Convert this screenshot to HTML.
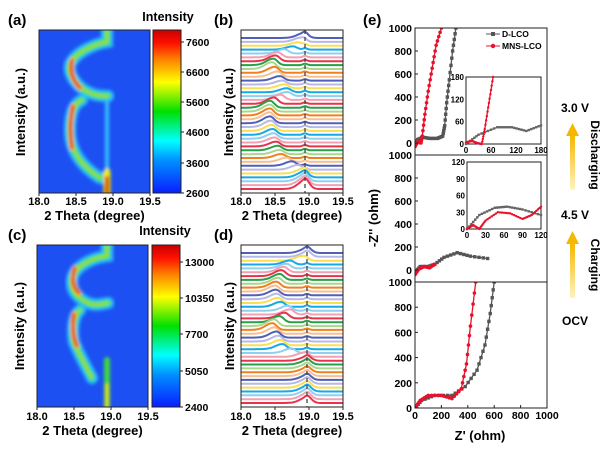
<!DOCTYPE html>
<html><head><meta charset="utf-8">
<style>
body{margin:0;background:#fff;}
svg{display:block;font-family:"Liberation Sans",Arial,sans-serif;font-weight:bold;}
</style></head><body>
<svg id="s" width="600" height="452" viewBox="0 0 600 452" xmlns="http://www.w3.org/2000/svg">
<defs>
<linearGradient id="jet" x1="0" y1="1" x2="0" y2="0">
<stop offset="0" stop-color="#0a1eff"/><stop offset="0.2" stop-color="#0090ff"/><stop offset="0.32" stop-color="#00ffff"/><stop offset="0.5" stop-color="#00e000"/><stop offset="0.68" stop-color="#ffff00"/><stop offset="0.82" stop-color="#ff8000"/><stop offset="0.92" stop-color="#ff1000"/><stop offset="1" stop-color="#c80000"/>
</linearGradient>
<filter id="bl" x="-20%" y="-20%" width="140%" height="140%"><feGaussianBlur stdDeviation="1.5"/></filter>
<linearGradient id="arr" x1="0" y1="1" x2="0" y2="0"><stop offset="0" stop-color="#fff3c0"/><stop offset="1" stop-color="#f5b800"/></linearGradient>
<clipPath id="ca"><rect x="39" y="30" width="111" height="163"/></clipPath>
<clipPath id="cc"><rect x="37" y="245" width="111" height="162"/></clipPath>
</defs>
<g id="g"></g>
</svg>
<script>
const g=document.getElementById('g');let H='';
function T(x,y,t,sz,anc,extra){H+=`<text x="${x}" y="${y}" font-size="${sz}" text-anchor="${anc||'start'}" ${extra||''}>${t}</text>`;}
function heat(x0,y0,w,h,clip,paths,red,vert){
 H+=`<rect x="${x0}" y="${y0}" width="${w}" height="${h}" fill="#1d50f2"/>`;
 H+=`<g clip-path="url(#${clip})" filter="url(#bl)" fill="none" stroke-linecap="round">`;
 const lay=[["#2098ff",13],["#30d8e8",9],["#30d040",5.5],["#a8e820",2.5]];
 for(const [c,w2] of lay) for(const p of paths) H+=`<path d="${p}" stroke="${c}" stroke-width="${w2}"/>`;
 for(const p of red) H+=`<path d="${p}" stroke="#ffc000" stroke-width="5"/><path d="${p}" stroke="#e80000" stroke-width="3"/>`;
 H+=vert+`</g>`;
 H+=`<rect x="${x0}" y="${y0}" width="${w}" height="${h}" fill="none" stroke="#222" stroke-width="1"/>`;
}
heat(39,30,111,163,'ca',
 ["M107,30 L107,42 C95,44 75,52 70,65 C68,75 78,88 90,93 C97,96 103,96 108,96","M82,100 C72,104 70,118 70,130 C70,150 80,165 100,178"],
 ["M72,60 C70,70 72,80 80,88","M73,106 C70,120 70,135 72,148"],
 `<path d="M107,100 L107,193" stroke="#30c0ff" stroke-width="4"/><path d="M107,172 L107,195" stroke="#f0f000" stroke-width="7"/><path d="M107,178 L107,195" stroke="#e00000" stroke-width="4"/>`);
heat(37,245,111,162,'cc',
 ["M107,245 L107,256 C92,258 74,266 72,280 C71,292 78,298 88,303 C95,306 102,304 108,303","M80,310 C73,316 72,330 74,342 C78,352 85,365 92,378"],
 ["M75,268 C71,278 73,288 79,293","M74,314 C72,325 73,338 77,346"],
 `<path d="M107,360 L107,407" stroke="#40d840" stroke-width="6"/><path d="M107,385 L107,407" stroke="#e8e000" stroke-width="3"/>`);
function cbar(x,y,h,labs){H+=`<rect x="${x}" y="${y}" width="28" height="${h}" fill="url(#jet)" stroke="#222"/>`;
 labs.forEach(([v,yy])=>{H+=`<line x1="${x+28}" x2="${x+31}" y1="${yy}" y2="${yy}" stroke="#222"/>`;T(x+33,yy+4,v,10.5);});}
cbar(153,30,163,[["7600",42],["6600",72],["5600",102],["4600",132],["3600",163],["2600",193]]);
cbar(152,245,162,[["13000",262],["10350",298],["7700",334],["5050",371],["2400",407]]);
T(168,21,"Intensity",12.5,"middle");T(165,235,"Intensity",12.5,"middle");
function xax(x0,y0,w,ly){const v=["18.0","18.5","19.0","19.5"];v.forEach((t,i)=>{const x=x0+i*w/3;H+=`<line x1="${x}" x2="${x}" y1="${y0}" y2="${y0+3}" stroke="#222"/>`;T(x,ly,t,11,"middle");});
 T(x0+w/2,ly+15,"2 Theta (degree)",13,"middle");}
xax(39,193,111,205);xax(37,407,111,420);xax(241,193,102,205);xax(241,407,102,420);
function ylab(x,y){T(x,y,"Intensity (a.u.)",13,"middle",`transform="rotate(-90 ${x} ${y})"`);}
ylab(25,112);ylab(24,326);ylab(233,112);ylab(234,326);
T(8,25,"(a)",15);T(214,25,"(b)",15);T(8,240,"(c)",15);T(214,240,"(d)",15);T(363,25,"(e)",15);
const cols=["#e8344a","#f4a0b4","#8fd0f0","#16a8e8","#f8e050","#b8b8e8","#5060b8","#f8c090","#f08020","#a8d890","#28a048"];
function stack(x0,y0,w,h,tbl,dashx){
 H+=`<rect x="${x0}" y="${y0}" width="${w}" height="${h}" fill="#fff"/>`;
 const n=40;
 const pk=t=>{for(let i=0;i<tbl.length-1;i++){if(t>=tbl[i][0]&&t<=tbl[i+1][0]){const f=(t-tbl[i][0])/(tbl[i+1][0]-tbl[i][0]);return [tbl[i][1]+f*(tbl[i+1][1]-tbl[i][1]),tbl[i][2]+f*(tbl[i+1][2]-tbl[i][2])];}}return [tbl[tbl.length-1][1],tbl[tbl.length-1][2]];};
 for(let k=n-1;k>=0;k--){const t=k/(n-1);const yb=y0+h-4-k*(h-12)/(n-1);const [p,a]=pk(t);
  const px=x0+(p-18)/1.5*w;let d="";
  for(let x=x0;x<=x0+w;x+=1.5){const dx=x-px;const wd=dx<0?7:4;const yy=yb-a*Math.exp(-dx*dx/(2*wd*wd))-1.5*Math.exp(-((x-dashx)**2)/8);d+=(d?"L":"M")+x.toFixed(1)+","+yy.toFixed(1);}
  H+=`<path d="${d}" fill="none" stroke="${cols[k%cols.length]}" stroke-width="2"/>`;}
 H+=`<line x1="${dashx}" x2="${dashx}" y1="${y0}" y2="${y0+h}" stroke="#444" stroke-width="1.3" stroke-dasharray="4,3"/>`;
 H+=`<rect x="${x0}" y="${y0}" width="${w}" height="${h}" fill="none" stroke="#222"/>`;
}
stack(241,30,102,163,[[0,18.95,9],[0.1,18.93,5],[0.2,18.6,4],[0.3,18.5,5],[0.45,18.42,7],[0.55,18.43,7],[0.62,18.7,4],[0.7,18.6,4],[0.8,18.45,7],[0.88,18.55,5],[0.93,18.8,3],[1,18.93,5]],305);
stack(241,245,102,162,[[0,18.98,6],[0.3,18.98,4],[0.35,18.62,5],[0.5,18.45,7],[0.6,18.75,5],[0.65,18.55,5],[0.75,18.5,6],[0.85,18.6,6],[0.92,18.7,4],[0.96,18.98,5],[1,18.98,5]],307);
const X0=415,X1=547;
const panels=[{top:28,bot:155,y0:143,y1:28},{top:155,bot:282,y0:270,y1:155},{top:282,bot:408,y0:408,y1:282}];
function sm(pts,n){const out=[];for(let i=0;i<pts.length-1;i++){for(let j=0;j<n;j++){const f=j/n;out.push([pts[i][0]+f*(pts[i+1][0]-pts[i][0]),pts[i][1]+f*(pts[i+1][1]-pts[i][1])]);}}out.push(pts[pts.length-1]);return out;}
function series(pts,mx,my,col,sq,n,ms){const P=sm(pts,n).map(([a,b])=>[mx(a),my(b)]);
 H+=`<polyline points="${P.map(p=>p[0].toFixed(1)+','+p[1].toFixed(1)).join(' ')}" fill="none" stroke="${col}" stroke-width="1.3"/>`;
 P.forEach(([x,y])=>{H+=sq?`<rect x="${x-ms}" y="${y-ms}" width="${2*ms}" height="${2*ms}" fill="${col}"/>`:`<circle cx="${x}" cy="${y}" r="${ms}" fill="${col}"/>`;});}
const data=[
 {g:[[0,-20],[20,30],[60,50],[110,40],[170,40],[210,60],[225,150],[240,350],[260,550],[285,800],[310,1000]],r:[[0,-30],[20,10],[45,0],[55,60],[75,250],[100,450],[130,650],[160,850],[200,1000]]},
 {g:[[0,-20],[40,30],[100,30],[150,50],[220,110],[320,150],[420,120],[550,100]],r:[[0,-40],[30,10],[70,30],[110,20],[150,50]]},
 {g:[[0,0],[50,60],[150,100],[280,100],[380,170],[470,300],[530,500],[570,750],[600,1000]],r:[[0,0],[40,60],[100,100],[200,100],[280,75],[350,150],[390,350],[420,650],[460,1000]]}];
panels.forEach((p,i)=>{const mx=v=>X0+v*(X1-X0)/1000,my=v=>p.y0-v*(p.y0-p.y1)/1000;
 H+=`<clipPath id="ce${i}"><rect x="${X0}" y="${p.top}" width="${X1-X0}" height="${p.bot-p.top}"/></clipPath>`;
 H+=`<g clip-path="url(#ce${i})">`;series(data[i].g,mx,my,"#555",1,4,1.7);series(data[i].r,mx,my,"#e8102a",0,4,1.8);H+=`</g>`;
 H+=`<rect x="${X0}" y="${p.top}" width="${X1-X0}" height="${p.bot-p.top}" fill="none" stroke="#222"/>`;
 for(let v=0;v<=1000;v+=200){const y=my(v);H+=`<line x1="${X0}" x2="${X0+3}" y1="${y}" y2="${y}" stroke="#222"/>`;T(X0-3,y+4,v,10.5,"end");}
});
for(let v=0;v<=1000;v+=200){const x=X0+v*(X1-X0)/1000;H+=`<line x1="${x}" x2="${x}" y1="408" y2="405" stroke="#222"/>`;T(x,419,v,10.5,"middle");}
T(480,440,"Z' (ohm)",13,"middle");T(378,218,"-Z'' (ohm)",13,"middle",'transform="rotate(-90 378 218)"');
H+=`<line x1="486" x2="500" y1="34" y2="34" stroke="#555"/><rect x="491" y="32" width="4" height="4" fill="#555"/>`;T(502,37,"D-LCO",8.5);
H+=`<line x1="486" x2="500" y1="46" y2="46" stroke="#e8102a"/><circle cx="493" cy="46" r="2.2" fill="#e8102a"/>`;T(502,49,"MNS-LCO",8.5);
function inset(x0,y0,x1,y1,max,step,g1,r1){const mx=v=>x0+v*(x1-x0)/max,my=v=>y1-v*(y1-y0)/max;
 H+=`<rect x="${x0}" y="${y0}" width="${x1-x0}" height="${y1-y0}" fill="#fff" stroke="#222"/>`;
 series(g1,mx,my,"#666",1,6,1.2);series(r1,mx,my,"#e8102a",0,6,1.2);
 for(let v=0;v<=max;v+=step){T(x0-2,my(v)+3,v,8,"end");T(mx(v),y1+9,v,8,"middle");}}
inset(466,77,541,144,180,60,[[0,0],[30,25],[75,45],[110,45],[145,35],[180,50]],[[0,5],[15,8],[28,2],[38,0],[45,40],[55,110],[65,180]]);
inset(467,162,541,229,120,30,[[0,0],[20,25],[45,38],[65,40],[90,35],[120,25]],[[0,0],[10,7],[20,0],[30,15],[50,30],[70,28],[90,18],[105,25],[120,40]]);
T(575,112,"3.0 V",12,"middle");T(575,219,"4.5 V",12,"middle");T(575,325,"OCV",12,"middle");
H+=`<rect x="570" y="135" width="5" height="55" fill="url(#arr)"/><polygon points="566,136 579,136 572.5,123" fill="#f5b800"/>`;
H+=`<rect x="570" y="243" width="5" height="55" fill="url(#arr)"/><polygon points="566,244 579,244 572.5,231" fill="#f5b800"/>`;
T(591,155,"Discharging",12,"middle",'transform="rotate(90 591 155)"');T(591,265,"Charging",12,"middle",'transform="rotate(90 591 265)"');
g.innerHTML=H;
</script>
</body></html>
